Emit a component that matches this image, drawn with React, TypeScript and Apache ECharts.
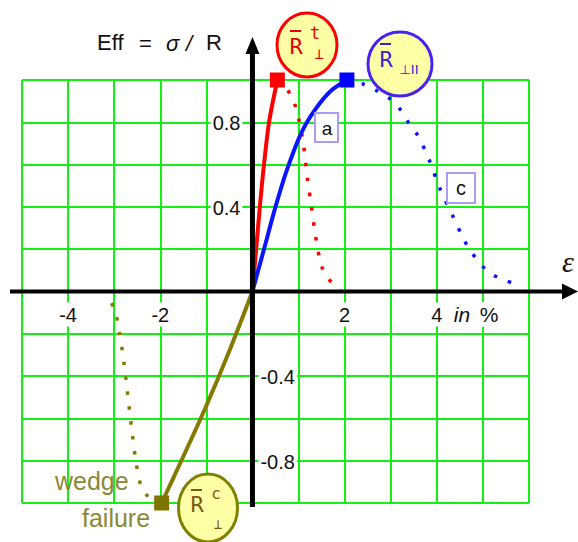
import { useEffect, useRef } from "react";
import * as echarts from "echarts";

// Strain axis (in %) and efficiency axis (sigma / R)
const xMin = -5;
const xMax = 6;
const yMin = -1;
const yMax = 1;
const xTickLabels = [-4, -2, 2, 4];
const yTickLabelsLeft = [0.8, 0.4];
const yTickLabelsRight = [-0.4, -0.8];

// Transverse tension: rise to failure, then softening
const redRise = [[0, 0], [0.08, 0.2], [0.16, 0.4], [0.25, 0.6], [0.36, 0.8], [0.54, 1.0]];
const redFall = [[0.54, 1.0], [0.74, 0.96], [0.91, 0.89], [1.02, 0.8], [1.11, 0.69], [1.19, 0.54], [1.28, 0.4], [1.37, 0.26], [1.5, 0.12], [1.65, 0.06], [1.92, 0.0]];

// In-plane shear: rise to failure, then softening
const blueRise = [[0, 0], [0.25, 0.2], [0.5, 0.4], [0.74, 0.57], [1.06, 0.75], [1.36, 0.86], [1.71, 0.95], [2.05, 1.0]];
const blueFall = [[2.05, 1.0], [2.41, 0.98], [2.69, 0.95], [2.99, 0.91], [3.21, 0.86], [3.38, 0.8], [3.58, 0.74], [3.84, 0.62], [4.06, 0.49], [4.34, 0.36], [4.6, 0.24], [4.77, 0.18], [4.99, 0.12], [5.21, 0.08], [5.51, 0.05], [5.84, 0.03]];

// Transverse compression: rise to wedge failure, then softening
const oliveRise = [[0, 0], [-0.5, -0.28], [-1.0, -0.54], [-1.5, -0.78], [-1.97, -1.0]];
const oliveFall = [[-1.97, -1.0], [-2.26, -0.97], [-2.43, -0.91], [-2.53, -0.8], [-2.62, -0.65], [-2.7, -0.5], [-2.78, -0.35], [-2.88, -0.2], [-3.0, -0.08], [-3.2, -0.01]];

const RED = "#ff0000";
const BLUE = "#0a14ff";
const OLIVE = "#857a00";
const GRID_GREEN = "#14ef14";
const FILL = "#ffffa6";

const sans = "'Liberation Sans', Arial, sans-serif";
const mono = "'DejaVu Sans Mono', monospace";
const serif = "'Liberation Serif', serif";

function txt(text: string, x: number, y: number, size: number, color: string, opts: any = {}) {
  const align = opts.align || "center";
  const valign = opts.valign || "middle";
  return {
    type: "text",
    x,
    y,
    z: opts.z ?? 20,
    style: {
      text,
      fill: color,
      fontSize: size,
      fontFamily: opts.family || sans,
      fontStyle: opts.italic ? "italic" : "normal",
      align,
      textAlign: align,
      verticalAlign: valign,
      textVerticalAlign: valign,
      backgroundColor: opts.bg,
      padding: opts.padding,
    },
  };
}

export default function App() {
  const ref = useRef<HTMLDivElement>(null);

  useEffect(() => {
    if (!ref.current) return;
    const chart = echarts.init(ref.current, undefined, { renderer: "svg" });

    const dotted = (data: number[][], color: string, width = 3.5) => ({
      type: "line",
      data,
      smooth: 0.3,
      symbol: "none",
      clip: false,
      z: 5,
      lineStyle: { color, width, type: [width, 15 - width], cap: "butt" },
    });
    const solid = (data: number[][], color: string) => ({
      type: "line",
      data,
      smooth: 0.3,
      symbol: "none",
      clip: false,
      z: 6,
      lineStyle: { color, width: 4 },
    });
    const peak = (point: number[], color: string) => ({
      type: "scatter",
      data: [point],
      symbol: "rect",
      symbolSize: 15,
      clip: false,
      z: 8,
      itemStyle: { color, opacity: 1 },
    });

    chart.setOption({
      animation: false,
      backgroundColor: "#ffffff",
      grid: { left: 22, top: 80, width: 507, height: 423 },
      xAxis: {
        type: "value",
        min: xMin,
        max: xMax,
        interval: 1,
        axisLine: { show: false },
        axisTick: { show: false },
        axisLabel: { show: false },
        splitLine: { show: true, lineStyle: { color: GRID_GREEN, width: 2 } },
      },
      yAxis: {
        type: "value",
        min: yMin,
        max: yMax,
        interval: 0.2,
        axisLine: { show: false },
        axisTick: { show: false },
        axisLabel: { show: false },
        splitLine: { show: true, lineStyle: { color: GRID_GREEN, width: 2 } },
      },
      series: [
        dotted(redFall, RED),
        solid(redRise, RED),
        dotted(blueFall, BLUE),
        solid(blueRise, BLUE),
        dotted(oliveFall, OLIVE),
        solid(oliveRise, OLIVE),
        peak(redRise[redRise.length - 1], RED),
        peak(blueRise[blueRise.length - 1], "#0000ff"),
        peak(oliveRise[oliveRise.length - 1], "#7d7500"),
      ],
    });

    const px = (v: number[]) => chart.convertToPixel({ gridIndex: 0 }, v) as number[];
    const [ox, oy] = px([0, 0]);
    const yTop = px([0, yMax])[1];
    const yBot = px([0, yMin])[1];
    const xLeft = px([xMin, 0])[0];

    const graphics: any[] = [];

    // tick labels with white boxes over the grid lines
    xTickLabels.forEach((v) => {
      graphics.push(txt(String(v), px([v, 0])[0], oy + 23, 20, "#111", { bg: "#fff", padding: [2, 3] }));
    });
    yTickLabelsLeft.forEach((v) => {
      graphics.push(txt(String(v), ox - 10, px([0, v])[1] + 1, 20, "#111", { align: "right", bg: "#fff", padding: [2, 2] }));
    });
    yTickLabelsRight.forEach((v) => {
      graphics.push(txt(String(v), ox + 6, px([0, v])[1] + 1, 20, "#111", { align: "left", bg: "#fff", padding: [2, 2] }));
    });
    graphics.push(txt("in", px([4, 0])[0] + 16, oy + 23, 21, "#111", { align: "left", italic: true, bg: "#fff", padding: [2, 1] }));
    graphics.push(txt("%", px([4, 0])[0] + 42, oy + 23, 21, "#111", { align: "left", bg: "#fff", padding: [2, 1] }));

    // axes through the origin, with arrow heads
    graphics.push({ type: "line", z: 15, shape: { x1: xLeft - 12, y1: oy, x2: 566, y2: oy }, style: { stroke: "#000", lineWidth: 4 } });
    graphics.push({ type: "polygon", z: 15, shape: { points: [[578, oy], [562, oy - 8], [562, oy + 8]] }, style: { fill: "#000" } });
    graphics.push({ type: "line", z: 15, shape: { x1: ox, y1: yBot + 4, x2: ox, y2: yTop - 28 }, style: { stroke: "#000", lineWidth: 5 } });
    graphics.push({ type: "polygon", z: 15, shape: { points: [[ox, yTop - 43], [ox - 7, yTop - 26], [ox + 7, yTop - 26]] }, style: { fill: "#000" } });

    // axis titles
    graphics.push(txt("Eff", 97, 42, 22, "#111", { align: "left" }));
    graphics.push(txt("=", 139, 43, 22, "#111", { align: "left" }));
    graphics.push(txt("σ", 166, 43, 22, "#111", { align: "left", italic: true }));
    graphics.push(txt("/", 186, 43, 22, "#111", { align: "left", italic: true }));
    graphics.push(txt("R", 206, 42, 22, "#111", { align: "left" }));
    graphics.push(txt("ε", 568, 261, 30, "#111", { italic: true, family: serif }));

    // curve tags
    graphics.push({ type: "rect", z: 18, shape: { x: 315, y: 113, width: 23, height: 29 }, style: { fill: "#fff", stroke: "#a99cf2", lineWidth: 2 } });
    graphics.push(txt("a", 327, 128, 19, "#111"));
    graphics.push({ type: "rect", z: 18, shape: { x: 447, y: 173, width: 28, height: 30 }, style: { fill: "#fff", stroke: "#a99cf2", lineWidth: 2 } });
    graphics.push(txt("c", 461, 188, 20, "#111"));

    // failure-mode bubbles
    const bubble = (cx: number, cy: number, rx: number, ry: number, stroke: string) => ({
      type: "ellipse",
      z: 18,
      shape: { cx, cy, rx, ry },
      style: { fill: FILL, stroke, lineWidth: 3 },
    });
    const bar = (x1: number, x2: number, y: number, color: string) => ({
      type: "line",
      z: 21,
      shape: { x1, y1: y, x2, y2: y },
      style: { stroke: color, lineWidth: 2 },
    });

    const redText = "#e80000";
    graphics.push(bubble(307, 45, 30, 32, RED));
    graphics.push(txt("R", 296, 46, 22, redText, { family: mono }));
    graphics.push(bar(290, 301, 31, redText));
    graphics.push(txt("t", 315, 33, 17, redText, { family: mono }));
    graphics.push(txt("⊥", 319, 54, 15, redText, { family: mono }));

    const blueText = "#3a22d8";
    graphics.push(bubble(400, 64, 32, 32, "#4a22ee"));
    graphics.push(txt("R", 386, 59, 22, blueText, { family: mono }));
    graphics.push(bar(380, 391, 44, blueText));
    graphics.push(txt("⊥II", 409, 69, 13, blueText, { family: "'DejaVu Sans', sans-serif" }));

    const oliveText = "#7a5c14";
    graphics.push(bubble(208, 508, 29.5, 34, "#808000"));
    graphics.push(txt("R", 197, 504, 22, oliveText, { family: mono }));
    graphics.push(bar(191, 202, 490, oliveText));
    graphics.push(txt("c", 216, 493, 16, oliveText, { family: mono }));
    graphics.push(txt("⊥", 218, 524, 14, oliveText, { family: mono }));

    graphics.push(txt("wedge", 55, 481, 25, "#8a8a35", { align: "left" }));
    graphics.push(txt("failure", 82, 518, 25, "#8a8a35", { align: "left" }));

    chart.setOption({ graphic: graphics });

    return () => chart.dispose();
  }, []);

  return (
    <div
      ref={ref}
      style={{ position: "fixed", left: 0, top: 0, width: 578, height: 542, background: "#fff" }}
    />
  );
}
